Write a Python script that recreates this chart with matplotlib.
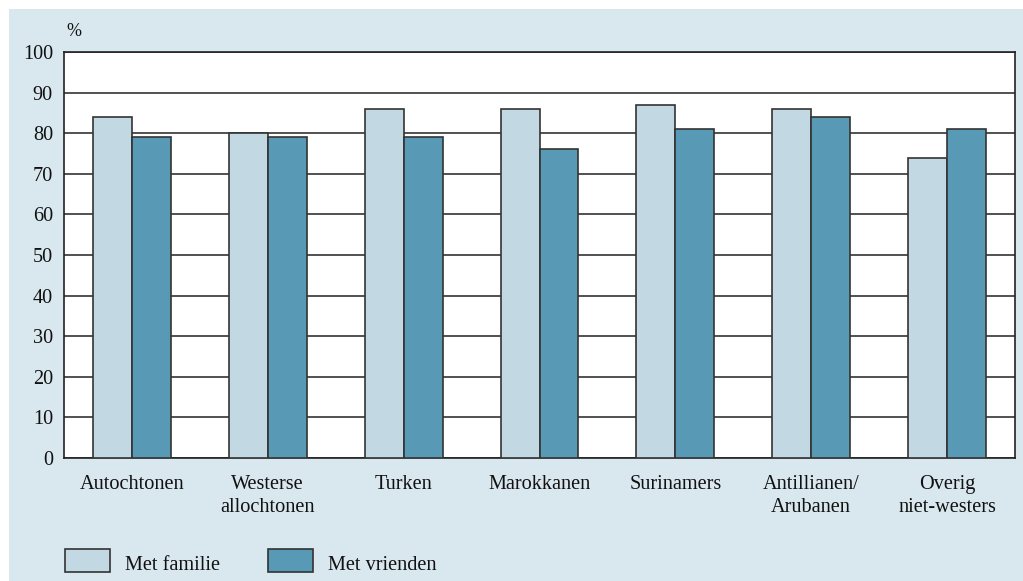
import matplotlib
matplotlib.use("Agg")
import matplotlib.pyplot as plt
from matplotlib.patches import Rectangle
import numpy as np

categories = ["Autochtonen", "Westerse\nallochtonen", "Turken", "Marokkanen",
              "Surinamers", "Antillianen/\nArubanen", "Overig\nniet-westers"]
met_familie = [84, 80, 86, 86, 87, 86, 74]
met_vrienden = [79, 79, 79, 76, 81, 84, 81]
series_labels = ["Met familie", "Met vrienden"]
y_ticks = list(range(0, 101, 10))

W, H = 1023, 581
plt.rcParams["font.family"] = ["Liberation Serif", "DejaVu Serif"]
FS = 14.6

fig = plt.figure(figsize=(W / 100, H / 100), dpi=100)
fig.patch.set_facecolor("white")

# light blue panel behind the chart
panel = Rectangle((9 / W, 0), 1 - 9 / W, 1 - 9 / H, transform=fig.transFigure,
                  facecolor="#d9e7ee", edgecolor="none", zorder=-10)
fig.patches.append(panel)

ax = fig.add_axes([64 / W, 1 - 458 / H, (1015 - 64) / W, (458 - 52) / H])
ax.set_facecolor("white")

light = "#c2d8e3"
dark = "#5899b5"
edge = "#333333"
bw = 0.287
x = np.arange(len(categories))

ax.bar(x - bw / 2, met_familie, bw, color=light, edgecolor=edge, linewidth=1.2, zorder=3)
ax.bar(x + bw / 2, met_vrienden, bw, color=dark, edgecolor=edge, linewidth=1.2, zorder=3)

ax.set_xlim(-0.5, len(categories) - 0.5)
ax.set_ylim(0, 100)
ax.set_yticks(y_ticks)
ax.yaxis.grid(True, color="#222222", linewidth=1.1, zorder=1)
ax.set_axisbelow(True)
ax.tick_params(axis="both", length=0, labelsize=FS, colors="#111111")
ax.tick_params(axis="y", pad=8)
ax.tick_params(axis="x", pad=12)
ax.set_xticks(x)
ax.set_xticklabels(categories, linespacing=1.3)
for s in ax.spines.values():
    s.set_color("#222222")
    s.set_linewidth(1.2)

fig.text(66 / W, 1 - 31 / H, "%", fontsize=13, color="#111111", va="center", ha="left")

# legend swatches
for (lx, col, lab) in [(65, light, series_labels[0]), (268, dark, series_labels[1])]:
    fig.patches.append(Rectangle((lx / W, 1 - 572 / H), 45 / W, 23 / H,
                                 transform=fig.transFigure, facecolor=col,
                                 edgecolor=edge, linewidth=1.2, zorder=2))
    fig.text((lx + 60) / W, 1 - 565 / H, lab, fontsize=FS, color="#111111",
             va="center", ha="left")

fig.savefig("out.png", dpi=100, facecolor=fig.get_facecolor())
